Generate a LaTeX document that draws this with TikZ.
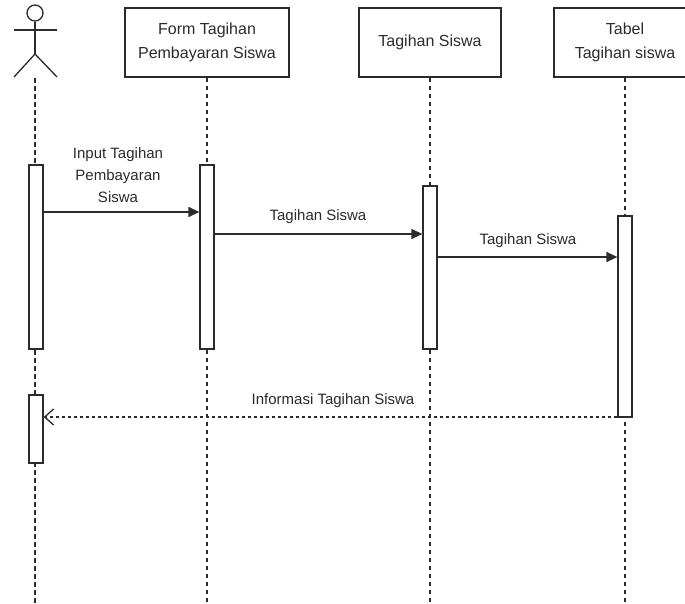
\documentclass[tikz,border=0pt]{standalone}
\usepackage{fontspec}
\setmainfont{Liberation Sans}
\usetikzlibrary{arrows.meta}
\definecolor{ln}{HTML}{2B2B2B}
\begin{document}
\begin{tikzpicture}[x=1pt,y=-1pt,
  every node/.style={font=\fontsize{16}{24}\selectfont, text=ln},
  headbox/.style={draw=ln, line width=1.4pt, rectangle, minimum height=69pt, align=center, inner sep=0pt},
  act/.style={draw=ln, line width=1.3pt, fill=white, rectangle, minimum width=14pt, inner sep=0pt},
  life/.style={draw=ln, line width=1.3pt, dash pattern=on 4.5pt off 3.5pt},
  msg/.style={draw=ln, line width=1.4pt, -{Triangle[length=11pt,width=10pt]}},
  ret/.style={draw=ln, line width=1.3pt, dash pattern=on 3pt off 3pt, -{Straight Barb[length=9pt,width=16pt]}},
  lbl/.style={font=\fontsize{15}{22}\selectfont, align=center, inner sep=1pt, fill=white}
]
\useasboundingbox (0,0) rectangle (685,603);
\begin{scope}
\clip (0,0) rectangle (685,603);
% actor
\node[draw=ln, line width=1.3pt, circle, minimum size=16pt, inner sep=0pt] (head) at (35,13) {};
\draw[ln, line width=1.3pt] (head.south) -- (35,54) coordinate (hip);
\draw[ln, line width=1.3pt] (14,30) -- (57,30);
\draw[ln, line width=1.3pt] (14,77) -- (hip) -- (57,77);
\coordinate (afoot) at (35,78);
\coordinate (bottom) at (0,603);

% head boxes
\node[headbox, minimum width=164pt] (form) at (207,42.5) {Form Tagihan\\Pembayaran Siswa};
\node[headbox, minimum width=142pt] (tag) at (430,42.5) {Tagihan Siswa};
\node[headbox, minimum width=142pt] (tab) at (625,42.5) {Tabel\\Tagihan siswa};

% lifelines
\draw[life] (afoot) -- (afoot |- bottom);
\draw[life] (form.south) -- (form.south |- bottom);
\draw[life] (tag.south) -- (tag.south |- bottom);
\draw[life] (tab.south) -- (tab.south |- bottom);

% activations
\node[act, minimum height=184pt] (a1) at (36,257) {};
\node[act, minimum height=68pt] (a2) at (36,429) {};
\node[act, minimum height=184pt] (f1) at (207,257) {};
\node[act, minimum height=163pt] (t1) at (430,267.5) {};
\node[act, minimum height=201pt] (b1) at (625,316.5) {};

% message levels
\coordinate (m1) at (0,212);
\coordinate (m2) at (0,234);
\coordinate (m3) at (0,257);
\coordinate (m4) at (0,417);

\draw[msg] (a1.east |- m1) -- (f1.west |- m1);
\draw[msg] (f1.east |- m2) -- (t1.west |- m2);
\draw[msg] (t1.east |- m3) -- (b1.west |- m3);
\draw[ret] (b1.west |- m4) -- (a2.east |- m4);

\node[lbl] (l1) at (118,175) {Input Tagihan\\Pembayaran\\Siswa};
\node[lbl] (l2) at (318,217) {Tagihan Siswa};
\node[lbl] (l3) at (528,241) {Tagihan Siswa};
\node[lbl] (l4) at (333,401) {Informasi Tagihan Siswa};
\end{scope}
\end{tikzpicture}
\end{document}
